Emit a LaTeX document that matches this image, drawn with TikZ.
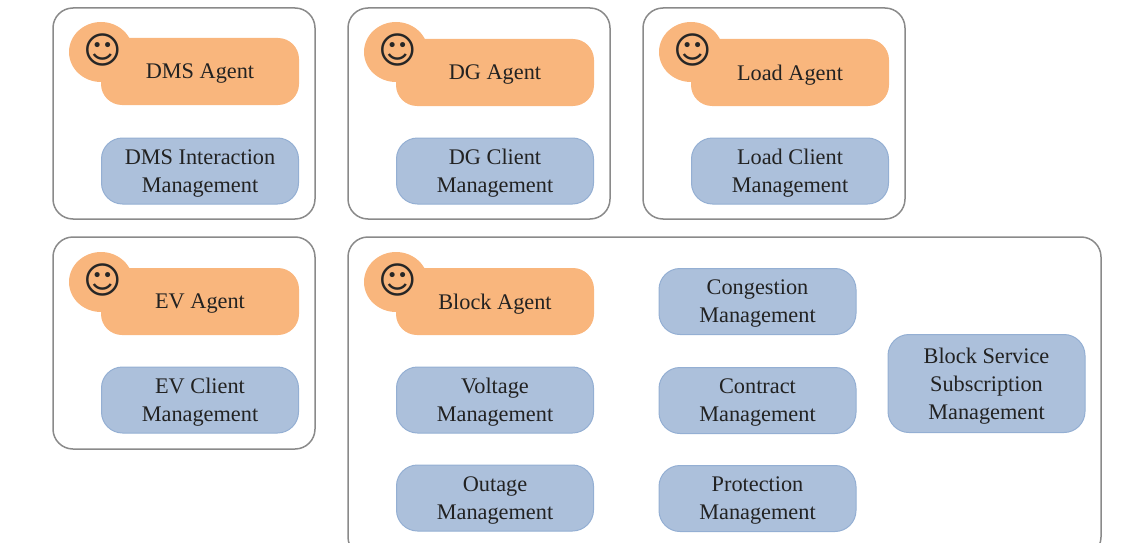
\documentclass[tikz,border=0pt]{standalone}
\usepackage{fontspec}
\setmainfont{Liberation Serif}
\newfontfamily\facefont{DejaVu Sans}
\usetikzlibrary{positioning, shapes.geometric}
\definecolor{agentorange}{HTML}{F9B67D}
\definecolor{mgmtblue}{HTML}{ACC0DB}
\definecolor{mgmtedge}{HTML}{94AFD3}
\definecolor{groupgray}{HTML}{8A8A8A}
\definecolor{labelink}{HTML}{222222}

\begin{document}
\begin{tikzpicture}[x=1pt, y=-1pt, node distance=32pt, font=\fontsize{22.3}{28}\selectfont, text=labelink]
        \tikzstyle{group} = [rectangle, draw=groupgray, line width=1.5pt, rounded corners=20pt, outer sep=0pt, minimum width=262pt, minimum height=211pt]
        \tikzstyle{agent} = [rectangle, fill=agentorange, rounded corners=21pt, align=center, outer sep=0pt, text depth=0pt, minimum width=198pt, minimum height=67pt]
        \tikzstyle{mgmt} = [rectangle, draw=mgmtedge, fill=mgmtblue, line width=1pt, rounded corners=21pt, align=center, outer sep=0pt, text depth=0pt, minimum width=197pt, minimum height=66pt]
        \tikzstyle{head} = [ellipse, fill=agentorange, minimum width=64pt, minimum height=60pt, inner sep=0pt]
        \tikzstyle{face} = [inner sep=0pt, font=\fontsize{37}{37}\facefont, text=black!85]
        \clip (0,0) rectangle (1143,543);
        % outer groups
        \node[group] (dmsgroup) at (184,113.5) {};
        \node[group] (dggroup) at (479,113.5) {};
        \node[group] (loadgroup) at (774,113.5) {};
        \node[group, minimum height=212pt] (evgroup) at (184,343) {};
        \node[group, minimum width=753pt, minimum height=320pt] (blockgroup) at (724.5,397) {};
        % round heads go under the agents
        \node[head] (dmshead) at (101,52) {};
        \node[head] (dghead) at (396,52) {};
        \node[head] (loadhead) at (691,52) {};
        \node[head] (evhead) at (101,282) {};
        \node[head] (blockhead) at (396,282) {};
        % agents
        \node[agent] (dms) at (200,71.5) {DMS Agent};
        \node[agent] (dg) at (495,72.5) {DG Agent};
        \node[agent] (load) at (790,72.5) {Load Agent};
        \node[agent] (ev) at (200,301.5) {EV Agent};
        \node[agent] (block) at (495,301.5) {Block Agent};
        \node[face] (dmsface) at ([shift={(2pt,2pt)}]dmshead) {☺};
        \node[face] (dgface) at ([shift={(2pt,2pt)}]dghead) {☺};
        \node[face] (loadface) at ([shift={(2pt,2pt)}]loadhead) {☺};
        \node[face] (evface) at ([shift={(2pt,2pt)}]evhead) {☺};
        \node[face] (blockface) at ([shift={(2pt,2pt)}]blockhead) {☺};
        % management boxes
        \node[mgmt] (dmsmgmt) at (200,171) {DMS Interaction\\Management};
        \node[mgmt] (dgmgmt) at (495,171) {DG Client\\Management};
        \node[mgmt] (loadmgmt) at (790,171) {Load Client\\Management};
        \node[mgmt, below=of ev] (evmgmt) {EV Client\\Management};
        \node[mgmt, below=of block] (voltage) {Voltage\\Management};
        \node[mgmt, below=of voltage] (outage) {Outage\\Management};
        \node[mgmt] (congestion) at (757.5,301.5) {Congestion\\Management};
        \node[mgmt, below=33pt of congestion] (contract) {Contract\\Management};
        \node[mgmt, below=of contract] (protection) {Protection\\Management};
        \node[mgmt, minimum height=98pt] (service) at (986.5,383.5) {Block Service\\Subscription\\Management};
    \end{tikzpicture}
\end{document}
